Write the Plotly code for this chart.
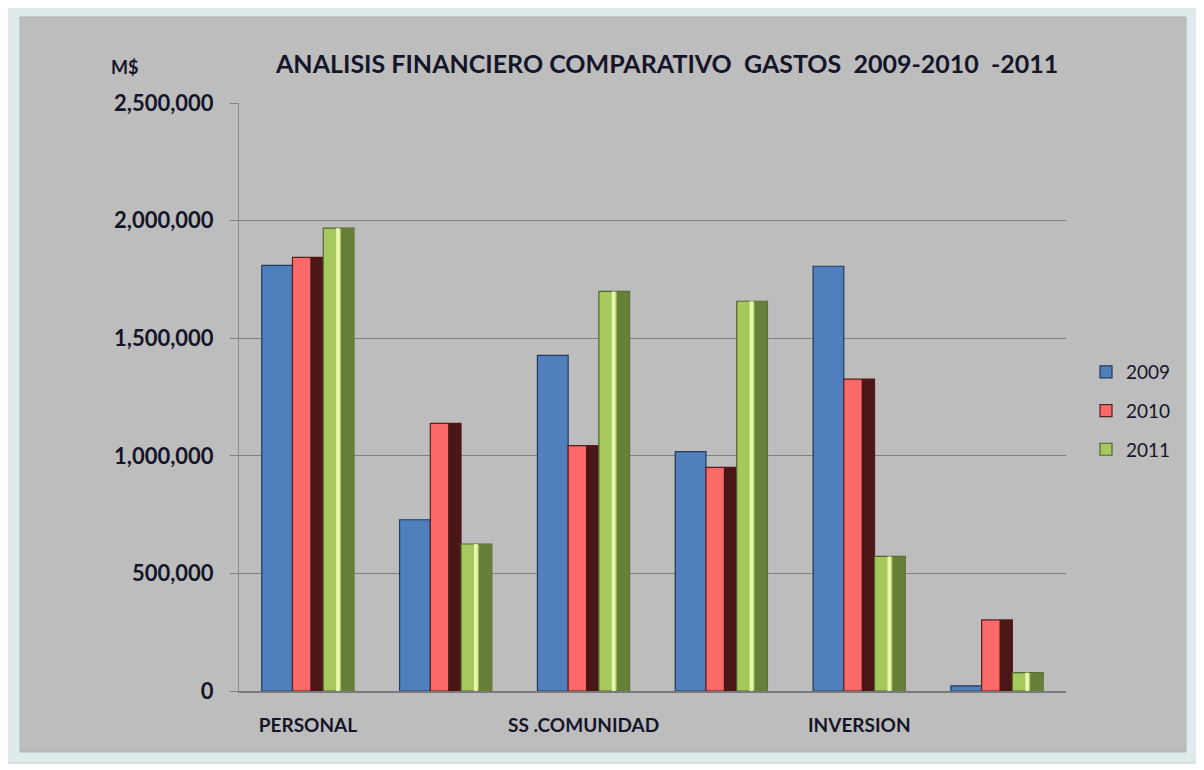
import plotly.graph_objects as go

# ---- data ----
categories = ["PERSONAL", "", "SS .COMUNIDAD", "", "INVERSION", ""]
years = ["2009", "2010", "2011"]
v2009 = [1810000, 728000, 1427000, 1018000, 1806000, 22000]
v2010 = [1844000, 1138000, 1043000, 951000, 1326000, 302000]
v2011 = [1968000, 625000, 1699000, 1657000, 572000, 78000]
yticks = [0, 500000, 1000000, 1500000, 2000000, 2500000]
series = [v2009, v2010, v2011]

# ---- style ----
OFF = 8  # page body margin
W, H = 1204 - OFF, 770 - OFF
L, R, T, B = 239 - OFF, 138, 103 - OFF, 79
FONT = "Lato"
TXT = "#15152a"
main_col = ["#4f80bd", "#fb6a68", "#a6c85c"]
edge_col = ["#223a5c", "#5a1f1f", "#4f6630"]
dark_col = [None, "#4a1716", "#687f3a"]
light_col = [None, None, "#e8f8b0"]
bw = 0.223
start = -0.335

x = list(range(len(categories)))
fig = go.Figure()
for i, (yr, vals) in enumerate(zip(years, series)):
    off = start + i * bw
    fig.add_trace(go.Bar(
        x=x, y=vals, name=yr, offset=off, width=bw,
        marker=dict(color=main_col[i], line=dict(color=edge_col[i], width=1.2)),
        legendgroup=yr, showlegend=True,
    ))
    if dark_col[i]:
        fig.add_trace(go.Bar(
            x=x, y=vals, offset=off + bw * 0.58, width=bw * 0.42,
            marker=dict(color=dark_col[i], line=dict(width=0)),
            showlegend=False, hoverinfo="skip", legendgroup=yr,
        ))
    if light_col[i]:
        fig.add_trace(go.Bar(
            x=x, y=vals, offset=off + bw * 0.42, width=bw * 0.12,
            marker=dict(color=light_col[i], line=dict(width=0)),
            showlegend=False, hoverinfo="skip", legendgroup=yr,
        ))

pw = W - L - R
ph = H - T - B
def px(xp):
    # xp in window pixels
    return (xp - OFF - L) / pw
def py(yp):
    return (H - B - (yp - OFF)) / ph

shapes = [
    dict(type="rect", xref="paper", yref="paper",
         x0=px(6), x1=px(1197), y0=py(763), y1=py(7),
         fillcolor="#dfeaea", line=dict(color="#b8cccc", width=1), layer="below"),
    dict(type="rect", xref="paper", yref="paper",
         x0=px(20), x1=px(1186), y0=py(752), y1=py(17),
         fillcolor="#bdbdbd", line=dict(color="#a9b4b4", width=1), layer="below"),
]

fig.update_layout(
    width=W, height=H,
    margin=dict(l=L, r=R, t=T, b=B, pad=0),
    paper_bgcolor="#ffffff",
    plot_bgcolor="#aaaaaa",
    barmode="overlay",
    shapes=shapes,
    font=dict(family=FONT, color=TXT),
    showlegend=True,
    legend=dict(
        x=px(1086), y=py(353), xanchor="left", yanchor="top",
        bgcolor="rgba(0,0,0,0)", font=dict(family=FONT, size=19, color=TXT),
        traceorder="grouped", tracegroupgap=11, itemwidth=30,
    ),
    xaxis=dict(
        range=[-0.5, 5.5], tickvals=x, ticktext=categories,
        showgrid=False, zeroline=False, showline=True,
        linecolor="#7a7a7a", linewidth=1.5,
        ticks="", ticklabelstandoff=16,
        tickfont=dict(family=FONT, size=19, color=TXT, weight="bold"),
        fixedrange=True,
    ),
    yaxis=dict(
        range=[0, 2500000], tickvals=yticks,
        tickformat=",d",
        showgrid=True, gridcolor="#808080", gridwidth=1,
        zeroline=False, showline=True, linecolor="#8a8a8a", linewidth=1,
        ticks="outside", ticklen=8, tickcolor="#808080",
        ticklabelstandoff=12,
        tickfont=dict(family=FONT, size=22, color=TXT, weight="bold"),
        fixedrange=True,
    ),
    annotations=[
        dict(text="<b>ANALISIS FINANCIERO COMPARATIVO&nbsp; GASTOS&nbsp; 2009-2010&nbsp; -2011</b>",
             xref="paper", yref="paper", x=px(666), y=py(63),
             xanchor="center", yanchor="middle", showarrow=False,
             font=dict(family=FONT, size=25, color=TXT)),
        dict(text="<b>M$</b>", xref="paper", yref="paper", x=px(124), y=py(67),
             xanchor="center", yanchor="middle", showarrow=False,
             font=dict(family=FONT, size=18, color=TXT)),
    ],
)

fig.write_html("out.html")
